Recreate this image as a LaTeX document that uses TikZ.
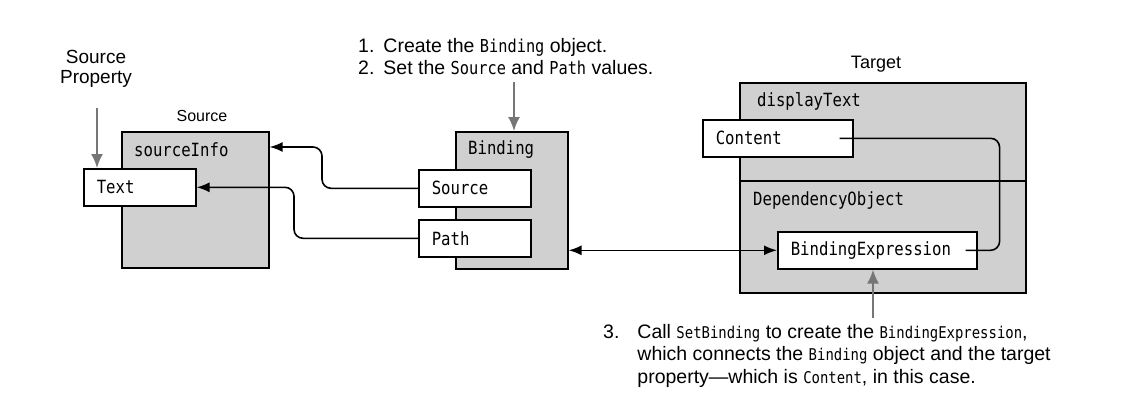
\documentclass[tikz,border=0pt]{standalone}
\usepackage{fontspec}
\setmainfont{Liberation Sans}
\newfontfamily\codefont{DejaVu Sans Mono}[FakeStretch=0.86]
\usetikzlibrary{arrows.meta}
\definecolor{boxgray}{RGB}{208,208,208}
\definecolor{notegray}{RGB}{118,118,118}
\newcommand{\picfont}{\fontsize{19.5}{22.5}\selectfont}
\newcommand{\boxfont}{\fontsize{18.2}{20}\selectfont\codefont}
\newcommand{\code}[2][16.2]{{\fontsize{#1}{22.5}\selectfont\codefont #2}}
\begin{document}
\begin{tikzpicture}[x=1pt,y=-1pt,font=\picfont,
    obj/.style={draw,fill=boxgray,line width=1.6pt,anchor=north west,inner sep=0pt},
    prop/.style={draw,fill=white,line width=1.6pt,anchor=north west,inner xsep=13pt,
      minimum height=37pt,align=left,font=\boxfont},
    tag/.style={anchor=west,inner sep=0pt,font=\boxfont},
    note/.style={draw=notegray,line width=1.8pt,-{Latex[length=14pt,width=12pt]}},
    link/.style={line width=1.6pt,rounded corners=9pt,-{Latex[length=13pt,width=10pt]}}]
\useasboundingbox (0,0) rectangle (1127,413);
\node[obj,minimum width=147pt,minimum height=136pt] (src) at (121,131) {};
\node[obj,minimum width=112pt,minimum height=137pt] (bind) at (455,131) {};
\node[obj,minimum width=286pt,minimum height=210pt] (tgt) at (739,82) {};
\draw[line width=1.6pt] ([yshift=-99pt]tgt.north west) -- ([yshift=-99pt]tgt.north east);
\node[tag] (info) at (134,150) {sourceInfo};
\node[tag] (bindlbl) at (468,150) {Binding};
\node[tag] (disp) at (757,101) {displayText};
\node[tag] (dep) at (753,200) {DependencyObject};
\node[prop,text width=86pt] (textp) at (83,168) {Text};
\node[prop,text width=86pt] (srcp) at (418,169) {Source};
\node[prop,text width=86pt] (pathp) at (418,219) {Path};
\node[prop,text width=124pt] (cont) at (702,119) {Content};
\node[prop,text width=173pt] (bexpr) at (777,231) {BindingExpression};
\node[align=center,anchor=base,inner sep=0pt,font=\fontsize{19}{19.5}\selectfont] (srcprop) at (96,83) {Source\\Property};
\node[anchor=base,inner sep=0pt,font=\fontsize{16}{19}\selectfont] (srclbl) at (202,121) {Source};
\node[anchor=base,inner sep=0pt,font=\fontsize{18}{20}\selectfont] (tgtlbl) at (876,68) {Target};
\node[anchor=base west,inner sep=0pt] (step12) at (358,52) {\begin{tabular}[t]{@{}l@{\hspace{9pt}}l@{}}
1. & Create the \code[17.8]{Binding} object.\\
2. & Set the \code[17.8]{Source} and \code[17.8]{Path} values.
\end{tabular}};
\node[anchor=base west,inner sep=0pt] (step3) at (603,338) {\begin{tabular}[t]{@{}l@{\hspace{18pt}}l@{}}
3. & Call \code{SetBinding} to create the \code{BindingExpression},\\
& which connects the \code{Binding} object and the target\\
& property---which is \code{Content}, in this case.
\end{tabular}};
\coordinate (srcpropend) at (97,108);
\coordinate (step12end) at (514,82);
\coordinate (step3end) at (873,318);
\draw[note] (srcpropend) -- (srcpropend |- textp.north);
\draw[note] (step12end) -- (step12end |- bind.north);
\draw[note] (step3end) -- (step3end |- bexpr.south);
\draw[link] (srcp.west) -- ++(-96,0) |- ([yshift=-16pt]src.north east);
\draw[link] (pathp.west) -- ++(-124,0) |- (textp.east);
\draw[link,{Latex[length=13pt,width=10pt]}-{Latex[length=13pt,width=10pt]}] (bexpr.west -| bind.east) -- (bexpr.west);
\draw[line width=1.6pt,rounded corners=9pt] ([xshift=-14pt]cont.east) -- ([xshift=22pt]cont.east -| bexpr.east) |- ([xshift=-12pt]bexpr.east);
\end{tikzpicture}
\end{document}
